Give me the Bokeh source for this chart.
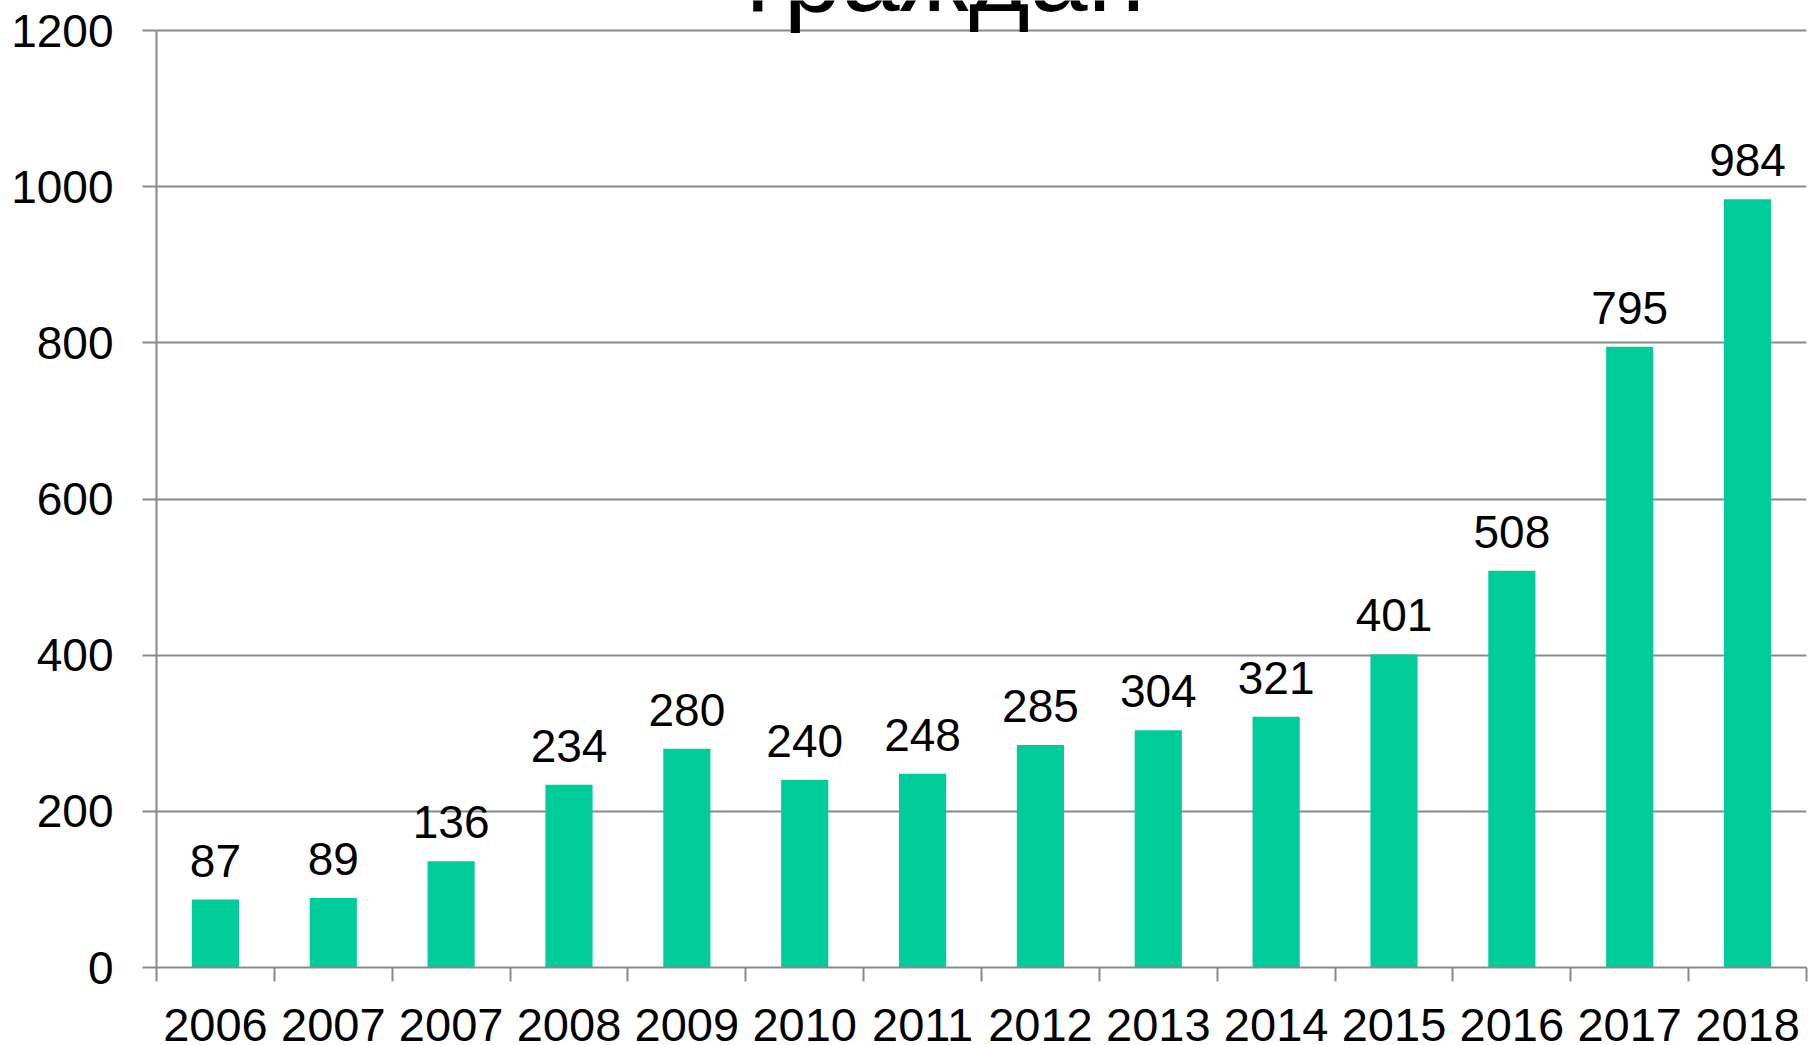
from bokeh.plotting import figure
from bokeh.models import FixedTicker, Range1d, Label, ColumnDataSource
from bokeh.core.properties import value
from bokeh.embed import file_html
from bokeh.resources import INLINE

# ---- data ----
years = ["2006", "2007", "2007", "2008", "2009", "2010", "2011",
         "2012", "2013", "2014", "2015", "2016", "2017", "2018"]
counts = [87, 89, 136, 234, 280, 240, 248, 285, 304, 321, 401, 508, 795, 984]
y_ticks = [0, 200, 400, 600, 800, 1000, 1200]
title_text = "граждан"

n = len(years)
centers = [2 * i + 1 for i in range(n)]
bounds = [2 * i for i in range(n + 1)]

GRAY = "#898989"
BAR = "#00CC99"
FONT = "Liberation Sans"

# frame runs to the canvas top so the (cut-off) title is not clipped;
# the axis itself stops at 1200, which sits 30px below the canvas top
Y_MAX = 1200
y_top = Y_MAX * 967.0 / (967.0 - 30.0)

p = figure(width=1814, height=1045, output_backend="svg", toolbar_location=None,
           x_range=Range1d(0, 2 * n), y_range=Range1d(0, y_top),
           min_border_left=156, min_border_right=8, min_border_top=0,
           min_border_bottom=78)
p.outline_line_color = None
p.background_fill_color = "white"
p.border_fill_color = "white"

src = ColumnDataSource(dict(x=centers, top=counts, label=[str(c) for c in counts]))
p.vbar(x="x", top="top", bottom=0, width=0.8, source=src,
       fill_color=BAR, line_color=None)
p.text(x="x", y="top", text="label", source=src, text_align="center",
       text_baseline="alphabetic", y_offset=-39,
       text_font=value(FONT), text_font_size="46px", text_color="black")

# x axis
xa = p.xaxis[0]
xa.ticker = FixedTicker(ticks=centers, minor_ticks=bounds)
xa.major_label_overrides = {c: y for c, y in zip(centers, years)}
xa.major_tick_out = 0
xa.major_tick_in = 0
xa.minor_tick_out = 14
xa.minor_tick_in = 0
xa.minor_tick_line_color = GRAY
xa.minor_tick_line_width = 2
xa.axis_line_color = GRAY
xa.axis_line_width = 2
xa.major_label_text_font = FONT
xa.major_label_text_font_size = "47px"
xa.major_label_text_color = "black"
xa.major_label_standoff = 27

# y axis
ya = p.yaxis[0]
ya.ticker = FixedTicker(ticks=y_ticks, minor_ticks=[])
ya.bounds = (0, Y_MAX)
ya.major_tick_out = 14
ya.major_tick_in = 0
ya.major_tick_line_color = GRAY
ya.major_tick_line_width = 2
ya.minor_tick_line_color = None
ya.axis_line_color = GRAY
ya.axis_line_width = 2
ya.major_label_text_font = FONT
ya.major_label_text_font_size = "46px"
ya.major_label_text_color = "black"
ya.major_label_standoff = 29

p.xgrid.visible = False
p.ygrid.ticker = FixedTicker(ticks=y_ticks, minor_ticks=[])
p.ygrid.grid_line_color = GRAY
p.ygrid.grid_line_width = 2

p.add_layout(Label(x=789, y=1271, x_units="screen", y_units="data",
                   text=title_text, text_align="center",
                   text_baseline="alphabetic", text_font=FONT,
                   text_font_size="104px", text_color="black"))

open("out.html", "w").write(file_html(p, INLINE))
